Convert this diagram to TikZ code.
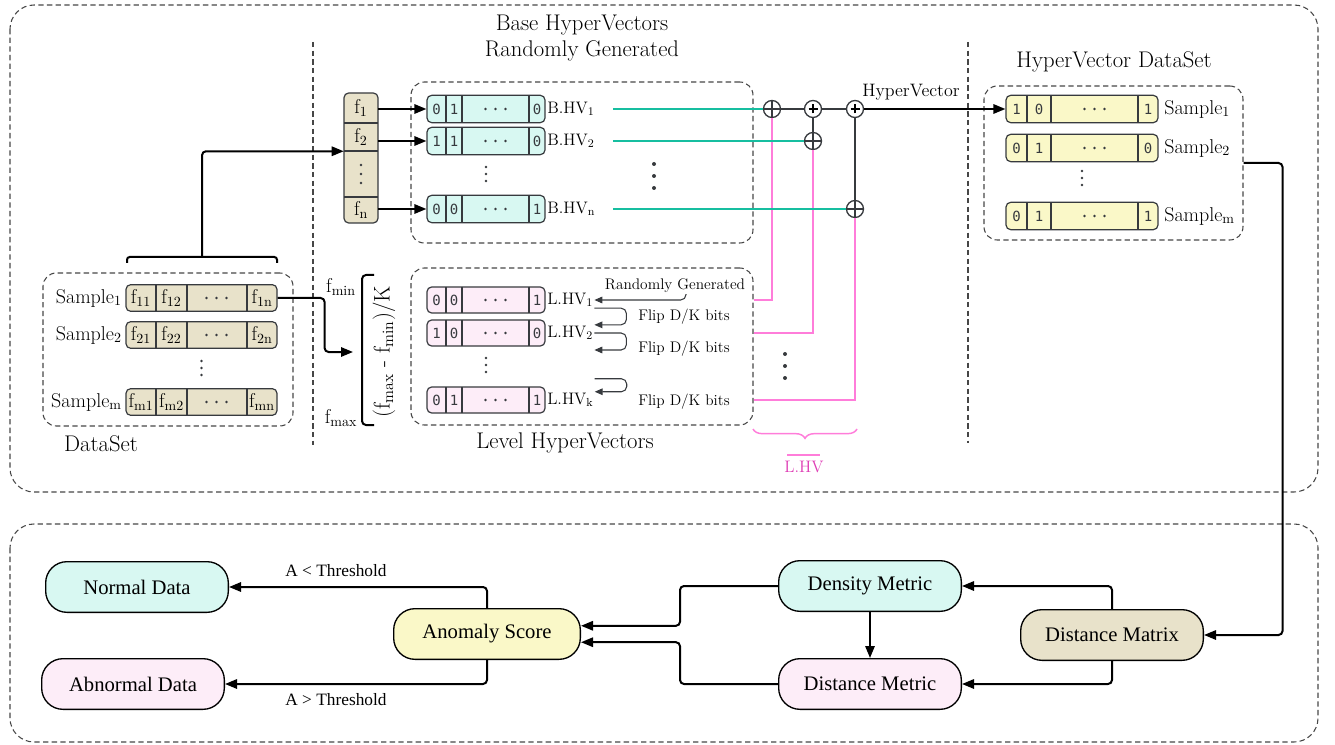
\documentclass[tikz,border=0pt]{standalone}
\usepackage{fontspec}
\newfontfamily\tnr{Liberation Serif}
\newfontfamily\bitfont{DejaVu Sans Mono}
\usepackage{tikz}
\usetikzlibrary{arrows.meta}
\usetikzlibrary{decorations.pathreplacing}
\usepackage{xcolor}

\definecolor{boxgray}{RGB}{55,58,62}
\definecolor{dashgray}{RGB}{70,70,70}
\definecolor{tanfill}{RGB}{232,226,202}
\definecolor{cyanfill}{RGB}{216,248,242}
\definecolor{pinkfill}{RGB}{253,237,248}
\definecolor{yellowfill}{RGB}{250,248,200}
\definecolor{tealline}{RGB}{22,190,160}
\definecolor{pinkline}{RGB}{255,125,218}
\definecolor{lhvtext}{RGB}{222,60,180}

% three dots in a row / in a column
\newcommand{\rowdots}[3][10]{\foreach \k in {-1,0,1} {\fill[boxgray] (#2+\k*#1,#3) circle (1.4);}}
\newcommand{\coldots}[3][7]{\foreach \k in {-1,0,1} {\fill[boxgray] (#2,#3+\k*#1) circle (1.3);}}

\begin{document}
\begin{tikzpicture}[x=0.75pt,y=0.75pt,yscale=-1,xscale=1,
  grp/.style={draw=dashgray, dash pattern=on 4pt off 2.5pt, line width=0.8pt, rounded corners=10pt, inner sep=0pt},
  sep/.style={draw=dashgray, dash pattern=on 4pt off 2.5pt, line width=0.8pt},
  cellbox/.style={draw=boxgray, line width=0.9pt, rounded corners=3.5pt, inner sep=0pt},
  cellline/.style={draw=boxgray, line width=0.8pt},
  bit/.style={font=\bitfont\fontsize{10.5}{12}\selectfont, text=boxgray, inner sep=0pt},
  lbl/.style={font=\fontsize{15}{17}\selectfont, inner sep=0.75pt},
  hvlbl/.style={font=\fontsize{12.5}{14}\selectfont, inner sep=0.75pt},
  small/.style={font=\fontsize{11.5}{13}\selectfont, inner sep=0.75pt},
  ttl/.style={font=\fontsize{17}{20}\selectfont, inner sep=0.75pt, align=center},
  conn/.style={draw=black, line width=1.5pt, rounded corners=3pt, -{Triangle[length=9pt,width=7pt]}},
  thinconn/.style={draw=boxgray, line width=0.8pt, rounded corners=4pt, -{Triangle[length=6pt,width=5pt]}},
  tealln/.style={draw=tealline, line width=1.6pt},
  pinkln/.style={draw=pinkline, line width=1.4pt},
  xorc/.style={circle, draw=boxgray, line width=1pt, minimum size=12.75pt, inner sep=0pt, fill=white},
  xorfull/.style={xorc, path picture={\draw[boxgray, line width=0.8pt] (path picture bounding box.north) -- (path picture bounding box.south) (path picture bounding box.west) -- (path picture bounding box.east);}},
  addc/.style={xorc, path picture={\draw[black, line width=0.9pt] (path picture bounding box.center) ++(0,-4.5) -- ++(0,9) (path picture bounding box.center) ++(-4.5,0) -- ++(9,0);}},
  pill/.style={draw=black, line width=1pt, rounded corners=16pt, minimum width=137pt, minimum height=38pt, font=\tnr\fontsize{15.5}{17}\selectfont},
  thr/.style={font=\tnr\fontsize{13}{15}\selectfont, inner sep=1pt}
]
\useasboundingbox (0,0) rectangle (1335,745);

%Shape: outer dashed frames
\draw[grp, rounded corners=18pt] (10,5) rectangle (1318,492);
\draw[grp, rounded corners=18pt] (10,524) rectangle (1318,742);
%Straight Lines: separators
\draw[sep] (313,42) -- (313,445);
\draw[sep] (968,42) -- (968,443);

%Shape: DataSet
\node[grp, minimum width=187.5pt, minimum height=114.75pt] (dsbox) at (168,349.5) {};
\node[ttl] (dstitle) at (101,444) {DataSet};
\foreach \y/\id in {298/1, 335/2, 402/m} {
  \node[cellbox, fill=tanfill, minimum width=113.25pt, minimum height=20pt] (s\id) at (201.5,\y) {};
  \draw[cellline] (156,\y-13.3) -- (156,\y+13.3) (187,\y-13.3) -- (187,\y+13.3) (247,\y-13.3) -- (247,\y+13.3);
  \node[lbl] at (141,\y) {f\textsubscript{\id1}};
  \node[lbl] at (171.5,\y) {f\textsubscript{\id2}};
  \node[lbl] at (262,\y) {f\textsubscript{\id n}};
  \rowdots{216.5}{\y}
  \node[lbl, anchor=east] at (123,\y) {Sample\textsubscript{\id}};
}
\coldots{201.5}{368}
%Straight Lines: bracket over the samples
\draw[line width=1.5pt, rounded corners=2pt] (127,263) -- (127,257) -- (277,257) -- (277,263);
\coordinate (brk) at (202,257);

%Shape: feature column
\draw[cellbox, fill=tanfill] (344,93) rectangle (378,223);
\draw[cellline] (344,123) -- (378,123) (344,151) -- (378,151) (344,197) -- (378,197);
\node[lbl, minimum width=25.5pt, minimum height=22.5pt] (f1) at (361,108) {f\textsubscript{1}};
\node[lbl, minimum width=25.5pt, minimum height=21pt] (f2) at (361,137) {f\textsubscript{2}};
\node[lbl, minimum width=25.5pt, minimum height=19.5pt] (fn) at (361,210) {f\textsubscript{n}};
\coldots[9]{361}{174}
\draw[conn] (brk) |- (f2.south west);

%Shape: Base HyperVectors
\node[ttl] (bhvtitle) at (582,38) {Base HyperVectors\\Randomly Generated};
\node[grp, minimum width=256.5pt, minimum height=120.75pt] (bhvbox) at (582,162.5) {};
\foreach \y/\ba/\bb/\bn/\id in {109/0/1/0/1, 141/1/1/0/2, 209/0/0/1/n} {
  \node[cellbox, fill=cyanfill, minimum width=88.5pt, minimum height=20.5pt] (b\id) at (486,\y) {};
  \draw[cellline] (446,\y-13.7) -- (446,\y+13.7) (462,\y-13.7) -- (462,\y+13.7) (529,\y-13.7) -- (529,\y+13.7);
  \node[bit] at (436.5,\y) {\ba};
  \node[bit] at (454,\y) {\bb};
  \node[bit] at (537,\y) {\bn};
  \rowdots{495.5}{\y}
  \node[hvlbl, anchor=west] (bl\id) at (546,\y) {B.HV\textsubscript{\id}};
  \coordinate (t\id) at (613,\y);
}
\coldots{486}{174}
\foreach \k in {-1,0,1} {\fill[boxgray] (654,176+\k*12) circle (2);}
\draw[conn] (f1.east |- b1.west) -- (b1.west);
\draw[conn] (f2.east |- b2.west) -- (b2.west);
\draw[conn] (fn.east |- bn.west) -- (bn.west);

%Shape: Level HyperVectors
\node[grp, minimum width=256.5pt, minimum height=117.75pt] (lhvbox) at (582,346.5) {};
\node[ttl] (lhvtitle) at (565,443) {Level HyperVectors};
\foreach \y/\ba/\bb/\bn/\id in {300/0/0/1/1, 333/1/0/0/2, 400/0/1/1/k} {
  \node[cellbox, fill=pinkfill, minimum width=88.5pt, minimum height=19.5pt] (l\id) at (486,\y) {};
  \draw[cellline] (446,\y-13) -- (446,\y+13) (462,\y-13) -- (462,\y+13) (529,\y-13) -- (529,\y+13);
  \node[bit] at (436.5,\y) {\ba};
  \node[bit] at (454,\y) {\bb};
  \node[bit] at (537,\y) {\bn};
  \rowdots{495.5}{\y}
  \node[hvlbl, anchor=west] (ll\id) at (546,\y) {L.HV\textsubscript{\id}};
}
\coldots{486}{365}
% Text Node
\node[small] (rg) at (675,286) {Randomly Generated};
\node[small, anchor=west] (flip1) at (637,317) {Flip D/K bits};
\node[small, anchor=west] (flip2) at (637,349) {Flip D/K bits};
\node[small, anchor=west] (flipk) at (637,402) {Flip D/K bits};
\draw[thinconn] ([xshift=8.25pt]rg.south) |- (ll1.east);
\draw[thinconn] (ll1.south east) -- ++(32,0) |- (ll2.north east);
\draw[thinconn] (ll2.east) -- ++(32,0) |- ++(-32,17);
\draw[thinconn] (llk.north east) ++(0,-13) -- ++(32,0) |- (llk.north east);

%Shape: (f_max - f_min)/K
\draw[line width=1.5pt, rounded corners=3pt] (374,275) -- (362,275) -- (362,425) -- (374,425);
\node[lbl] (fmin) at (341,287) {f\textsubscript{min}};
\node[lbl] (fmax) at (341,418) {f\textsubscript{max}};
\node[ttl, rotate=90] (rangek) at (384,352) {(f\textsubscript{max} - f\textsubscript{min})/K};
\coordinate (rngin) at (353,352);
\draw[conn] (s1.east) -- ++(47,0) |- (rngin);

%Shape: binding
\node[xorfull] (x1) at (772,109) {};
\node[addc] (a1) at (813,109) {};
\node[addc] (a2) at (855,109) {};
\node[xorfull] (x2) at (813,141) {};
\node[xorfull] (xn) at (855,209) {};
\draw[pinkln] (lhvbox.east |- l1) -| (x1);
\draw[pinkln] (lhvbox.east |- l2) -| (x2);
\draw[pinkln] (lhvbox.east |- lk) -| (xn);
\draw[tealln] (t1) -- (x1);
\draw[tealln] (t2) -- (x2);
\draw[tealln] (tn) -- (xn);
\draw[boxgray, line width=1.3pt] (x1) -- (a1) -- (a2) (a1) -- (x2) (a2) -- (xn);
\foreach \k in {-1,0,1} {\fill[boxgray] (785,366+\k*12) circle (2);}
\draw[pinkline, line width=1.1pt, decorate, decoration={brace, mirror, amplitude=7pt}] (753,429) -- (857,429);
\node[hvlbl, text=lhvtext] (lhv) at (804,467) {L.HV};
\draw[pinkline, line width=1pt] (lhv.north west) ++(4,-5) -- ++(33,0);
\node[hvlbl, font=\fontsize{13.5}{15}\selectfont] (hvword) at (911,92) {HyperVector};

%Shape: HyperVector DataSet
\node[ttl] (hvtitle) at (1114,62) {HyperVector DataSet};
\node[grp, minimum width=194.25pt, minimum height=115.5pt] (hvbox) at (1113.5,163) {};
\foreach \y/\ba/\bb/\bn/\id in {109/1/0/1/1, 148/0/1/0/2, 216/0/1/1/m} {
  \node[cellbox, fill=yellowfill, minimum width=114pt, minimum height=20.5pt] (h\id) at (1082,\y) {};
  \draw[cellline] (1027,\y-13.7) -- (1027,\y+13.7) (1051,\y-13.7) -- (1051,\y+13.7) (1138,\y-13.7) -- (1138,\y+13.7);
  \node[bit] at (1016.5,\y) {\ba};
  \node[bit] at (1039,\y) {\bb};
  \node[bit] at (1148,\y) {\bn};
  \rowdots{1094.5}{\y}
  \node[lbl, anchor=west] at (1163,\y) {Sample\textsubscript{\id}};
}
\coldots{1082}{178}
\draw[conn] (a2) -- (h1);

%Shape: anomaly detection
\node[pill, fill=cyanfill] (normal) at (137,587) {Normal Data};
\node[pill, fill=pinkfill] (abnormal) at (133,684) {Abnormal Data};
\node[pill, fill=yellowfill, minimum width=140pt] (score) at (487,634) {Anomaly Score};
\node[pill, fill=cyanfill] (density) at (870,586) {Density Metric};
\node[pill, fill=pinkfill] (distmet) at (870,684) {Distance Metric};
\node[pill, fill=tanfill] (dmat) at (1112,635) {Distance Matrix};
% Text Node
\node[thr] (lt) at (336,571) {A < Threshold};
\node[thr] (gt) at (336,700) {A > Threshold};

\draw[conn] (hvbox.east) -- ++(39,0) |- (dmat.east);
\draw[conn] (dmat.north) |- (density.east);
\draw[conn] (dmat.south) |- (distmet.east);
\draw[conn] (density) -- (distmet);
\draw[conn] (density.west) -- ++(-98,0) |- (score.5.5);
\draw[conn] (distmet.west) -- ++(-98,0) |- (score.-5.5);
\draw[conn] (score.north) |- (normal.east);
\draw[conn] (score.south) |- (abnormal.east);

\end{tikzpicture}
\end{document}
